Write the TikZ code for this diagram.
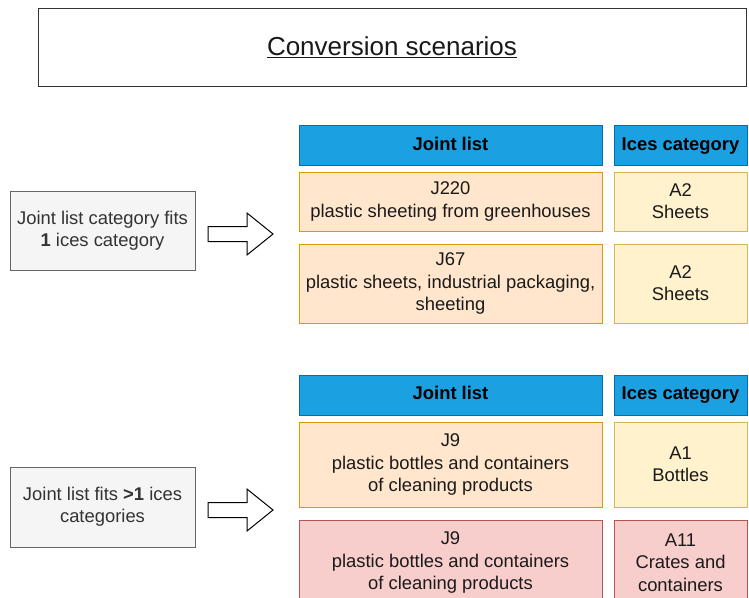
\documentclass[tikz,border=0pt]{standalone}
\usepackage{fontspec}
\setmainfont{Liberation Sans}
\definecolor{hdrfill}{HTML}{1BA1E2}
\definecolor{hdrline}{HTML}{006EAF}
\definecolor{orfill}{HTML}{FFE6CC}
\definecolor{orline}{HTML}{D79B00}
\definecolor{yefill}{HTML}{FFF2CC}
\definecolor{yeline}{HTML}{D6B656}
\definecolor{rdfill}{HTML}{F8CECC}
\definecolor{rdline}{HTML}{B85450}
\definecolor{gyfill}{HTML}{F5F5F5}
\definecolor{gyline}{HTML}{666666}
\definecolor{gytext}{HTML}{333333}
\definecolor{txt}{HTML}{1A1A1A}
\tikzset{
  base/.style={draw, line width=1pt, align=center, inner sep=0pt, anchor=center,
    font=\fontsize{18.4}{22.3}\selectfont, text=txt},
  wide/.style={base, minimum width=303pt},
  narrow/.style={base, minimum width=133pt},
  hdr/.style={fill=hdrfill, draw=hdrline, minimum height=40pt, text=black,
    text height=13.5pt, text depth=4pt,
    font=\fontsize{18.4}{22.3}\selectfont\bfseries},
  orbox/.style={fill=orfill, draw=orline},
  yebox/.style={fill=yefill, draw=yeline},
  rdbox/.style={fill=rdfill, draw=rdline},
  leftbox/.style={base, fill=gyfill, draw=gyline, text=gytext, minimum width=185pt},
  blockarrow/.style={draw=black, fill=white, line width=1pt, line join=miter},
}
\begin{document}
\begin{tikzpicture}[x=1pt, y=-1pt]
\useasboundingbox (0,0) rectangle (749,597);
\fill[white] (0,0) rectangle (749,597);
% title
\node[draw=black!80, line width=1pt, minimum width=708pt, minimum height=78pt, inner sep=0pt,
  font=\fontsize{26}{30}\selectfont, text=black!90] (title) at (392,47) {\underline{Conversion scenarios}};
% scenario 1
\node[leftbox, minimum height=79pt] (L1) at (102.5,230.5) {Joint list category fits\\\textbf{1} ices category};
\node[wide, hdr] (H1j) at (450.5,145.5) {Joint list};
\node[narrow, hdr] (H1i) at (680.5,145.5) {Ices category};
\node[wide, orbox, minimum height=59pt] (J220) at (450.5,201.5) {J220\\plastic sheeting from greenhouses};
\node[narrow, yebox, minimum height=59pt] (A2a) at (680.5,201.5) {A2\\Sheets};
\node[wide, orbox, minimum height=79pt] (J67) at (450.5,283.5) {J67\\plastic sheets, industrial packaging,\\sheeting};
\node[narrow, yebox, minimum height=79pt] (A2b) at (680.5,283.5) {A2\\Sheets};
% scenario 2
\node[leftbox, minimum height=80pt] (L2) at (102.5,507) {Joint list fits \textbf{>1} ices\\categories};
\node[wide, hdr] (H2j) at (450.5,395) {Joint list};
\node[narrow, hdr] (H2i) at (680.5,395) {Ices category};
\node[wide, orbox, minimum height=85pt] (J9a) at (450.5,464.5) {J9\\plastic bottles and containers\\of cleaning products};
\node[narrow, yebox, minimum height=85pt] (A1) at (680.5,464.5) {A1\\Bottles};
\node[wide, rdbox, minimum height=85pt] (J9b) at (450.5,562.5) {J9\\plastic bottles and containers\\of cleaning products};
\node[narrow, rdbox, minimum height=85pt] (A11) at (680.5,562.5) {A11\\Crates and\\containers};
% block arrows
\foreach \yc in {234,510}{
  \draw[blockarrow] (208,\yc-7.5) -- (247,\yc-7.5) -- (247,\yc-21) -- (273,\yc)
    -- (247,\yc+21) -- (247,\yc+7.5) -- (208,\yc+7.5) -- cycle;
}
\end{tikzpicture}
\end{document}
